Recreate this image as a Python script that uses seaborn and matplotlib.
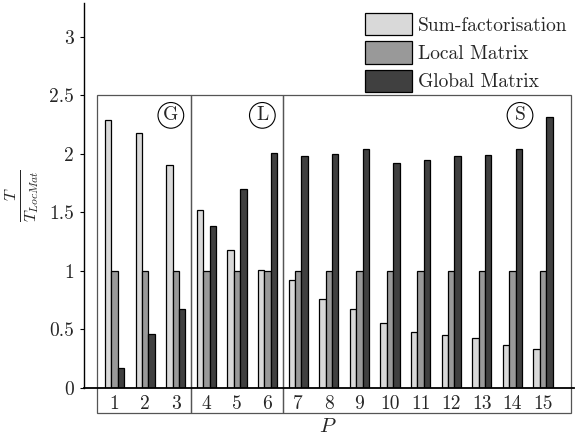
import numpy as np
import pandas as pd
import matplotlib
matplotlib.use('Agg')
import matplotlib.pyplot as plt
from matplotlib.patches import Rectangle
import seaborn as sns

# data
procs = list(range(1, 16))
sum_fact = [2.29, 2.18, 1.905, 1.52, 1.18, 1.01, 0.92, 0.76, 0.677, 0.55, 0.475, 0.455, 0.426, 0.366, 0.33]
local_mat = [1.0] * 15
global_mat = [0.166, 0.46, 0.67, 1.38, 1.70, 2.01, 1.98, 2.00, 2.04, 1.92, 1.945, 1.985, 1.995, 2.04, 2.317]
series = ['Sum-factorisation', 'Local Matrix', 'Global Matrix']
colours = ['#d9d9d9', '#999999', '#404040']
ytick_vals = [0, 0.5, 1, 1.5, 2, 2.5, 3]
ytick_labels = ['0', '0.5', '1', '1.5', '2', '2.5', '3']
groups = ['G', 'L', 'S']

df = pd.DataFrame({'P': procs * 3,
                   'ratio': sum_fact + local_mat + global_mat,
                   'method': [s for s in series for _ in procs]})

sns.set_style('white')
plt.rcParams['font.family'] = ['cmr10']
plt.rcParams['mathtext.fontset'] = 'cm'
plt.rcParams['axes.formatter.use_mathtext'] = True
plt.rcParams['font.size'] = 14

fig = plt.figure(figsize=(5.75, 4.38), dpi=100)
ax = fig.add_axes([0.146, 0.1148, 0.8515, 0.878])

sns.barplot(data=df, x='P', y='ratio', hue='method', hue_order=series,
            palette=colours, width=0.63, edgecolor='black', linewidth=0.9,
            saturation=1, ax=ax)

ax.set_xlim(-1, 15)
ax.set_ylim(0, 3.29)
ax.set_yticks(ytick_vals)
ax.set_yticklabels(ytick_labels, fontsize=14)
ax.set_xticks(range(15))
ax.set_xticklabels([str(p) for p in procs], fontsize=14)
ax.tick_params(axis='x', length=0, pad=5)
ax.tick_params(axis='y', direction='out', length=3, width=0.8, color='black', left=True, pad=4)

for s in ['top', 'right']:
    ax.spines[s].set_visible(False)
ax.spines['left'].set_color('black')
ax.spines['bottom'].set_color('black')
ax.spines['left'].set_linewidth(1.0)
ax.spines['bottom'].set_linewidth(1.3)

# group boxes
bounds = [(-0.58, 2.5), (2.5, 5.5), (5.5, 14.9)]
label_x = [1.84, 4.83, 13.25]
for (x0, x1), g, lx in zip(bounds, groups, label_x):
    ax.add_patch(Rectangle((x0, -0.22), x1 - x0, 2.72, fill=False,
                           edgecolor='#555555', linewidth=0.9, clip_on=False, zorder=0))
    ax.text(lx, 2.33, g, ha='center', va='center', fontsize=14,
            bbox=dict(boxstyle='circle,pad=0.2', fc='white', ec='black', lw=0.8))

ax.set_ylabel(r'$\frac{T}{T_{LocMat}}$', fontsize=17)
ax.yaxis.set_label_coords(-0.088, 0.5)
ax.set_xlabel(r'$P$', fontsize=15)
ax.xaxis.set_label_coords(0.498, -0.08)

leg = ax.legend(loc='upper left', bbox_to_anchor=(365 / 575, 1 - 13 / 438),
                bbox_transform=fig.transFigure, frameon=False, fontsize=14,
                handlelength=2.4, handleheight=1.4, labelspacing=0.3,
                handletextpad=0.3, borderpad=0, borderaxespad=0)

plt.savefig('out.png', dpi=100)
